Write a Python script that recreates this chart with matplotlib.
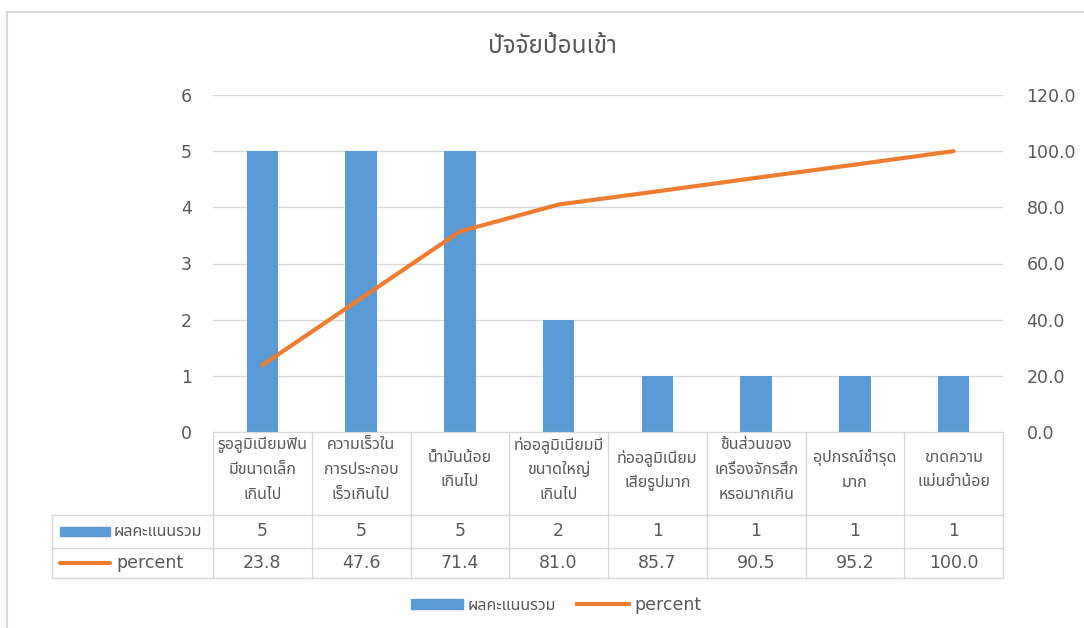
import matplotlib
matplotlib.use("Agg")
import matplotlib.pyplot as plt
from matplotlib import font_manager
from matplotlib.ft2font import FT2Font
from matplotlib.patches import Rectangle
from matplotlib.lines import Line2D

# ---------------- data ----------------
categories = [
    "รูอลูมิเนียมฟิน\nมีขนาดเล็ก\nเกินไป",
    "ความเร็วใน\nการประกอบ\nเร็วเกินไป",
    "น้ำมันน้อย\nเกินไป",
    "ท่ออลูมิเนียมมี\nขนาดใหญ่\nเกินไป",
    "ท่ออลูมิเนียม\nเสียรูปมาก",
    "ชิ้นส่วนของ\nเครื่องจักรสึก\nหรอมากเกิน",
    "อุปกรณ์ชำรุด\nมาก",
    "ขาดความ\nแม่นยำน้อย",
]
scores = [5, 5, 5, 2, 1, 1, 1, 1]
percent = [23.8, 47.6, 71.4, 81.0, 85.7, 90.5, 95.2, 100.0]
series_names = ["ผลคะแนนรวม", "percent"]
title = "ปัจจัยป้อนเข้า"
left_ticks = [0, 1, 2, 3, 4, 5, 6]
right_ticks = [0, 20, 40, 60, 80, 100, 120]

# ---------------- fonts ----------------
thai_family = None
preferred = []
for f in font_manager.fontManager.ttflist:
    try:
        cm = FT2Font(f.fname).get_charmap()
    except Exception:
        continue
    if 0x0E01 in cm:
        preferred.append(f.name)
for cand in ["Noto Sans Thai", "Noto Sans Thai UI", "Loma", "Garuda", "Tlwg Typo", "Noto Sans"]:
    if cand in preferred:
        thai_family = cand
        break
if thai_family is None and preferred:
    thai_family = preferred[0]
fams = ["DejaVu Sans"] + ([thai_family] if thai_family else [])
thai_fams = ([thai_family] if thai_family else []) + ["DejaVu Sans"]
plt.rcParams["font.family"] = fams

BLUE = "#5B9BD5"
ORANGE = "#ED7D31"
TXT = "#595959"
GRID = "#D9D9D9"

W, H = 1084, 628
fig = plt.figure(figsize=(W / 100, H / 100), dpi=100)
fig.patch.set_facecolor("white")

# outer frame (left and top edges only visible)
fig.add_artist(Line2D([7 / W, 7 / W], [0, 1 - 12 / H], transform=fig.transFigure,
                      color=GRID, lw=1.5))
fig.add_artist(Line2D([7 / W, 1], [1 - 12 / H, 1 - 12 / H], transform=fig.transFigure,
                      color=GRID, lw=1.5))

ax_l, ax_r = 213, 1003
ax_t, ax_b = 95, 432
ax = fig.add_axes([ax_l / W, 1 - ax_b / H, (ax_r - ax_l) / W, (ax_b - ax_t) / H])
x = list(range(len(categories)))
ax.bar(x, scores, width=0.32, color=BLUE, zorder=2)
ax.set_xlim(-0.5, len(categories) - 0.5)
ax.set_ylim(0, 6)
ax.set_yticks(left_ticks)
ax.set_yticklabels([str(t) for t in left_ticks])
ax.tick_params(axis="y", length=0, pad=15, labelsize=12.5, labelcolor=TXT)
ax.set_xticks([])
ax.grid(axis="y", color=GRID, linewidth=1, zorder=0)
for s in ["top", "right", "left"]:
    ax.spines[s].set_visible(False)
ax.spines["bottom"].set_color(GRID)

ax2 = ax.twinx()
ax2.plot(x, percent, color=ORANGE, linewidth=3, solid_capstyle="round", zorder=3)
ax2.set_ylim(0, 120)
ax2.set_yticks(right_ticks)
ax2.set_yticklabels([f"{t:.1f}" for t in right_ticks])
ax2.tick_params(axis="y", length=0, pad=17, labelsize=12.5, labelcolor=TXT)
for s in ax2.spines.values():
    s.set_visible(False)

fig.text(552 / W, 1 - 47 / H, title, ha="center", va="center", fontsize=17.5,
         color=TXT, family=thai_fams)

# ---------------- data table ----------------
ncol = len(categories)
colw = 1.0 / ncol
axw = ax_r - ax_l
axh = ax_b - ax_t
tab_left = 52
label_w_rel = (ax_l - tab_left) / axw


def ay(py):
    return (ax_b - py) / axh


lc = GRID
for i in range(ncol + 1):
    xx = i * colw
    ax.plot([xx, xx], [ay(432), ay(578)], color=lc, lw=1, transform=ax.transAxes,
            clip_on=False, zorder=1)
ax.plot([-label_w_rel, -label_w_rel], [ay(515), ay(578)], color=lc, lw=1,
        transform=ax.transAxes, clip_on=False)
for py in [515, 548, 578]:
    ax.plot([-label_w_rel, 1], [ay(py), ay(py)], color=lc, lw=1,
            transform=ax.transAxes, clip_on=False)

for i, cat in enumerate(categories):
    cx = (i + 0.5) * colw
    ax.text(cx, ay(470), cat, transform=ax.transAxes, ha="center",
            va="center", fontsize=11.5, color=TXT, linespacing=1.75,
            family=thai_fams)
    ax.text(cx, ay((515 + 548) / 2), str(scores[i]), transform=ax.transAxes,
            ha="center", va="center", fontsize=12.5, color=TXT)
    ax.text(cx, ay((548 + 578) / 2), f"{percent[i]:.1f}", transform=ax.transAxes,
            ha="center", va="center", fontsize=12.5, color=TXT)

# row labels with keys
key_x0 = (60 - ax_l) / axw
key_x1 = (110 - ax_l) / axw
ym = ay((515 + 548) / 2)
ax.add_patch(Rectangle((key_x0, ym - 4.5 / axh), key_x1 - key_x0, 9 / axh,
                       transform=ax.transAxes, color=BLUE, clip_on=False))
ax.text((114 - ax_l) / axw, ym, series_names[0], transform=ax.transAxes,
        ha="left", va="center", fontsize=11.5, color=TXT, family=thai_fams)
ym2 = ay((548 + 578) / 2)
ax.plot([key_x0, key_x1], [ym2, ym2], color=ORANGE, lw=3, transform=ax.transAxes,
        clip_on=False, solid_capstyle="round")
ax.text((116 - ax_l) / axw, ym2, series_names[1], transform=ax.transAxes,
        ha="left", va="center", fontsize=12.5, color=TXT)

# ---------------- bottom legend ----------------
handles = [Rectangle((0, 0), 1, 1, color=BLUE),
           Line2D([0], [0], color=ORANGE, lw=3)]
leg = fig.legend(handles, series_names, loc="center", bbox_to_anchor=(556 / W, 1 - 605 / H),
                 ncol=2, frameon=False, fontsize=12.5, handlelength=3.0,
                 handleheight=0.55, columnspacing=1.2, handletextpad=0.3)
for t, fs in zip(leg.get_texts(), [11.5, 12.5]):
    t.set_color(TXT)
    t.set_fontsize(fs)
leg.get_texts()[0].set_family(thai_fams)

fig.savefig("out.png", dpi=100)
